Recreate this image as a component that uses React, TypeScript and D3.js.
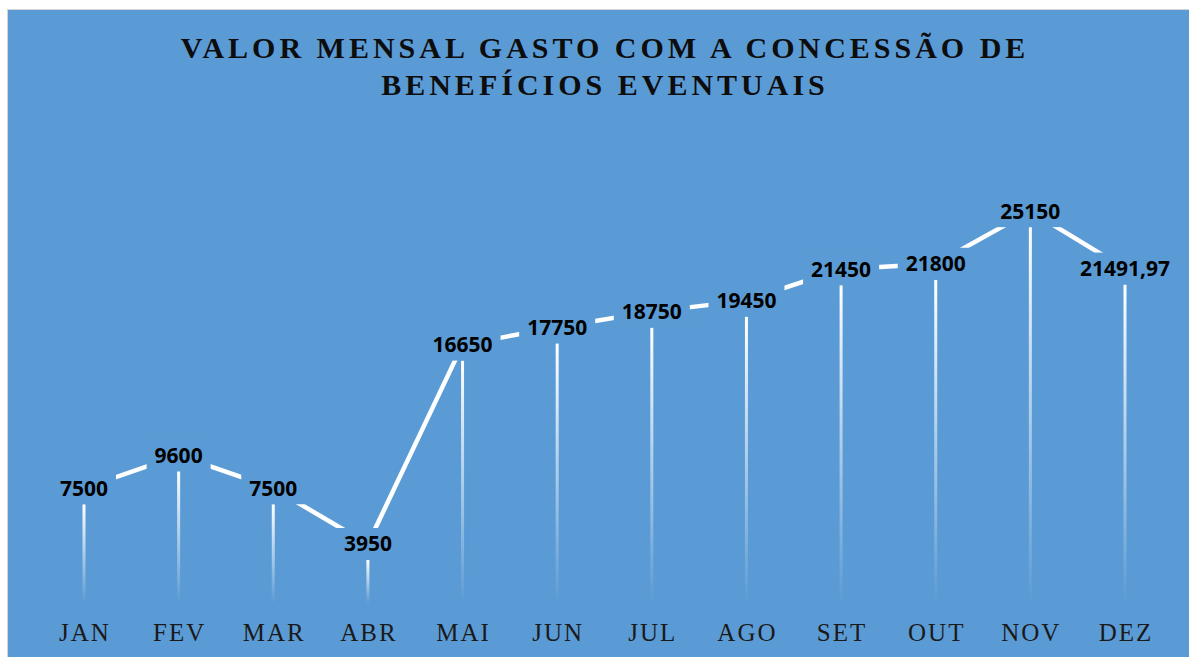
import React from "react";
import * as d3 from "d3";

const months = ["JAN", "FEV", "MAR", "ABR", "MAI", "JUN", "JUL", "AGO", "SET", "OUT", "NOV", "DEZ"];
const values = [7500, 9600, 7500, 3950, 16650, 17750, 18750, 19450, 21450, 21800, 25150, 21491.97];
const titleLines = ["VALOR MENSAL GASTO COM A CONCESSÃO DE", "BENEFÍCIOS EVENTUAIS"];

const W = 1189;
const H = 657;
const BG = "#5b9bd5";
const LABEL_FONT = "700 21px 'Open Sans'";

function fmt(v: number): string {
  if (Number.isInteger(v)) return String(v);
  return v.toFixed(2).replace(".", ",");
}

let ctx: CanvasRenderingContext2D | null = null;
function measure(t: string): number {
  if (!ctx) {
    const c = document.createElement("canvas");
    ctx = c.getContext("2d");
  }
  if (!ctx) return t.length * 12;
  ctx.font = LABEL_FONT;
  return ctx.measureText(t).width;
}

export default function App() {
  const x = d3.scalePoint<string>().domain(months).range([84, 1125]);
  const y = d3.scaleLinear().domain([0, 30000]).range([606, 135]);
  const pts = months.map((m, i) => ({ m, v: values[i], px: x(m) as number, py: y(values[i]) }));
  const line = d3
    .line<{ px: number; py: number }>()
    .x((d) => d.px)
    .y((d) => d.py);
  const boxH = 32;
  const dropBottom = 603;

  return (
    <svg
      width={W}
      height={H}
      style={{ position: "absolute", left: 0, top: 0, display: "block" }}
    >
      <defs>
        <linearGradient id="dropGrad" x1="0" y1="0" x2="0" y2="1">
          <stop offset="0" stopColor="#ffffff" stopOpacity={1} />
          <stop offset="1" stopColor="#ffffff" stopOpacity={0} />
        </linearGradient>
      </defs>
      <rect x={0} y={0} width={W} height={H} fill="#ffffff" />
      <rect x={7.5} y={9.5} width={W} height={H} fill={BG} stroke="#d4d4d4" strokeWidth={1} />
      <g
        fontFamily="'Liberation Serif', serif"
        fontWeight={700}
        fontSize={30}
        letterSpacing={4}
        fill="#0d0d0d"
        textAnchor="middle"
      >
        {titleLines.map((t, i) => (
          <text key={i} x={605} y={58 + i * 37}>
            {t}
          </text>
        ))}
      </g>
      {pts.map((p) => {
        const top = p.py + boxH / 2;
        return (
          <rect
            key={"d" + p.m}
            x={p.px - 1.5}
            y={top}
            width={3}
            height={Math.max(0, dropBottom - top)}
            fill="url(#dropGrad)"
          />
        );
      })}
      <path d={line(pts) || ""} fill="none" stroke="#ffffff" strokeWidth={4.5} strokeLinejoin="round" />
      {pts.map((p) => {
        const t = fmt(p.v);
        const w = measure(t) + 16;
        return (
          <g key={"l" + p.m}>
            <rect x={p.px - w / 2} y={p.py - boxH / 2} width={w} height={boxH} fill={BG} />
            <text
              x={p.px}
              y={p.py + 7.5}
              textAnchor="middle"
              fontFamily="'Open Sans', sans-serif"
              fontWeight={700}
              fontSize={21}
              fill="#000000"
            >
              {t}
            </text>
          </g>
        );
      })}
      <g fontFamily="'Liberation Serif', serif" fontSize={25} fill="#1a1a1a" textAnchor="middle" letterSpacing={2}>
        {pts.map((p) => (
          <text key={"x" + p.m} x={p.px + 1} y={641}>
            {p.m}
          </text>
        ))}
      </g>
    </svg>
  );
}
